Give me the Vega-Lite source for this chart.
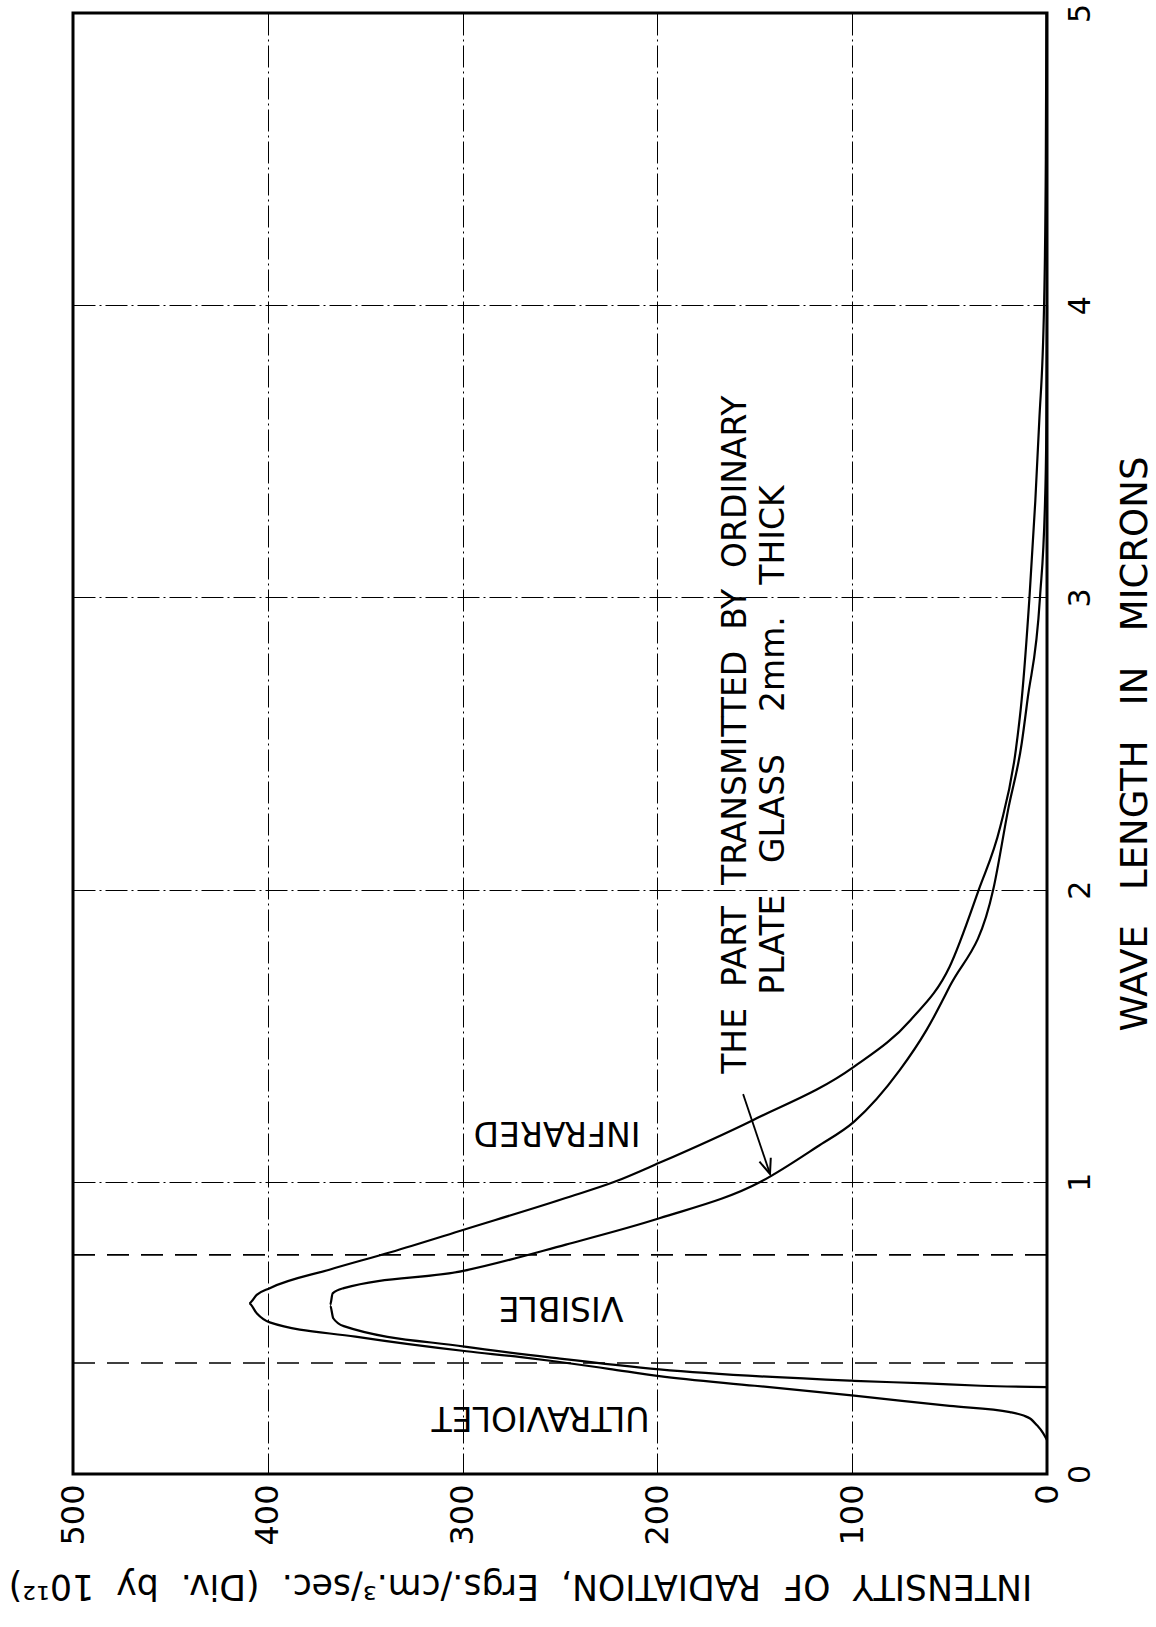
{
  "$schema": "https://vega.github.io/schema/vega-lite/v6.json",
  "width": 974,
  "height": 1461,
  "autosize": {"type": "none"},
  "padding": {"left": 73, "top": 13, "right": 109, "bottom": 153},
  "background": "white",
  "config": {"view": {"stroke": "black", "strokeWidth": 3}, "font": "DejaVu Sans"},
  "datasets": {
    "curves": [
      {"series": "Black body", "wavelength": 0.116, "intensity": 0},
      {"series": "Black body", "wavelength": 0.14, "intensity": 2},
      {"series": "Black body", "wavelength": 0.168, "intensity": 5.3},
      {"series": "Black body", "wavelength": 0.19, "intensity": 8.7},
      {"series": "Black body", "wavelength": 0.2, "intensity": 12},
      {"series": "Black body", "wavelength": 0.212, "intensity": 19},
      {"series": "Black body", "wavelength": 0.233, "intensity": 50},
      {"series": "Black body", "wavelength": 0.268, "intensity": 99},
      {"series": "Black body", "wavelength": 0.302, "intensity": 150},
      {"series": "Black body", "wavelength": 0.335, "intensity": 199},
      {"series": "Black body", "wavelength": 0.36, "intensity": 225},
      {"series": "Black body", "wavelength": 0.385, "intensity": 252},
      {"series": "Black body", "wavelength": 0.4, "intensity": 270},
      {"series": "Black body", "wavelength": 0.42, "intensity": 298},
      {"series": "Black body", "wavelength": 0.47, "intensity": 355},
      {"series": "Black body", "wavelength": 0.519, "intensity": 399},
      {"series": "Black body", "wavelength": 0.55, "intensity": 405.7},
      {"series": "Black body", "wavelength": 0.584, "intensity": 409.6},
      {"series": "Black body", "wavelength": 0.613, "intensity": 405.7},
      {"series": "Black body", "wavelength": 0.636, "intensity": 399},
      {"series": "Black body", "wavelength": 0.7, "intensity": 368},
      {"series": "Black body", "wavelength": 0.759, "intensity": 337},
      {"series": "Black body", "wavelength": 0.837, "intensity": 299},
      {"series": "Black body", "wavelength": 0.949, "intensity": 245},
      {"series": "Black body", "wavelength": 1.0, "intensity": 222},
      {"series": "Black body", "wavelength": 1.065, "intensity": 199},
      {"series": "Black body", "wavelength": 1.211, "intensity": 151},
      {"series": "Black body", "wavelength": 1.394, "intensity": 99},
      {"series": "Black body", "wavelength": 1.554, "intensity": 70},
      {"series": "Black body", "wavelength": 1.736, "intensity": 50},
      {"series": "Black body", "wavelength": 2.0, "intensity": 35},
      {"series": "Black body", "wavelength": 2.215, "intensity": 24},
      {"series": "Black body", "wavelength": 2.478, "intensity": 16},
      {"series": "Black body", "wavelength": 2.65, "intensity": 13},
      {"series": "Black body", "wavelength": 3.0, "intensity": 9},
      {"series": "Black body", "wavelength": 3.33, "intensity": 6},
      {"series": "Black body", "wavelength": 3.6, "intensity": 4},
      {"series": "Black body", "wavelength": 4.0, "intensity": 1.5},
      {"series": "Black body", "wavelength": 4.5, "intensity": 0.6},
      {"series": "Black body", "wavelength": 5.0, "intensity": 0.3},
      {"series": "Plate glass", "wavelength": 0.297, "intensity": 0},
      {"series": "Plate glass", "wavelength": 0.302, "intensity": 34},
      {"series": "Plate glass", "wavelength": 0.31, "intensity": 62},
      {"series": "Plate glass", "wavelength": 0.319, "intensity": 99},
      {"series": "Plate glass", "wavelength": 0.358, "intensity": 199},
      {"series": "Plate glass", "wavelength": 0.395, "intensity": 250},
      {"series": "Plate glass", "wavelength": 0.436, "intensity": 299},
      {"series": "Plate glass", "wavelength": 0.506, "intensity": 361},
      {"series": "Plate glass", "wavelength": 0.533, "intensity": 366.4},
      {"series": "Plate glass", "wavelength": 0.578, "intensity": 368},
      {"series": "Plate glass", "wavelength": 0.618, "intensity": 366.7},
      {"series": "Plate glass", "wavelength": 0.636, "intensity": 361},
      {"series": "Plate glass", "wavelength": 0.696, "intensity": 299},
      {"series": "Plate glass", "wavelength": 0.785, "intensity": 247},
      {"series": "Plate glass", "wavelength": 0.875, "intensity": 199},
      {"series": "Plate glass", "wavelength": 1.0, "intensity": 147},
      {"series": "Plate glass", "wavelength": 1.12, "intensity": 118},
      {"series": "Plate glass", "wavelength": 1.206, "intensity": 99},
      {"series": "Plate glass", "wavelength": 1.383, "intensity": 75.5},
      {"series": "Plate glass", "wavelength": 1.52, "intensity": 61.8},
      {"series": "Plate glass", "wavelength": 1.668, "intensity": 50},
      {"series": "Plate glass", "wavelength": 2.0, "intensity": 27.6},
      {"series": "Plate glass", "wavelength": 2.272, "intensity": 20},
      {"series": "Plate glass", "wavelength": 2.5, "intensity": 13},
      {"series": "Plate glass", "wavelength": 2.65, "intensity": 10},
      {"series": "Plate glass", "wavelength": 3.0, "intensity": 3.6},
      {"series": "Plate glass", "wavelength": 3.33, "intensity": 1},
      {"series": "Plate glass", "wavelength": 3.6, "intensity": 0.3},
      {"series": "Plate glass", "wavelength": 4.0, "intensity": 0}
    ],
    "bands": [
      {"boundary": "ultraviolet / visible", "wavelength": 0.38},
      {"boundary": "visible / infrared", "wavelength": 0.75}
    ],
    "regions": [
      {"label": "ULTRAVIOLET", "intensity": 260, "wavelength": 0.195},
      {"label": "VISIBLE", "intensity": 249.5, "wavelength": 0.572},
      {"label": "INFRARED", "intensity": 251.5, "wavelength": 1.17}
    ],
    "note": [
      {"label": "THE \u00a0PART \u00a0TRANSMITTED \u00a0BY \u00a0ORDINARY", "intensity": 159.7, "wavelength": 2.53},
      {"label": "PLATE \u00a0\u00a0GLASS \u00a0\u00a0 2mm. \u00a0\u00a0THICK", "intensity": 140.1, "wavelength": 2.512}
    ],
    "arrow": [
      {"part": "tail", "intensity": 156, "wavelength": 1.3},
      {"part": "tip", "intensity": 142.2, "wavelength": 1.027}
    ]
  },
  "layer": [
    {
      "data": {"name": "bands"},
      "mark": {"type": "rule", "color": "black", "strokeWidth": 1.6, "strokeDash": [22, 12]},
      "encoding": {
        "y": {
          "field": "wavelength", "type": "quantitative",
          "scale": {"domain": [0, 5], "nice": false},
          "axis": {
            "orient": "right", "values": [0, 1, 2, 3, 4, 5], "format": "d",
            "title": "WAVE \u00a0\u00a0LENGTH \u00a0\u00a0IN \u00a0\u00a0MICRONS",
            "titleAngle": 270, "titleBaseline": "top", "titlePadding": 22,
            "titleFont": "DejaVu Sans", "titleFontSize": 37, "titleFontWeight": "normal", "titleColor": "black",
            "labelAngle": 270, "labelAlign": "center", "labelBaseline": "top", "labelPadding": 18,
            "labelFont": "DejaVu Sans", "labelFontSize": 30, "labelColor": "black",
            "labelFlush": false, "labelOverlap": false,
            "ticks": false, "domain": false,
            "grid": true, "gridColor": "black", "gridDash": [22, 4, 2, 4], "gridWidth": 1, "gridOpacity": 1
          }
        }
      }
    },
    {
      "data": {"name": "curves"},
      "mark": {"type": "line", "color": "black", "strokeWidth": 2.2, "interpolate": "monotone", "orient": "horizontal"},
      "encoding": {
        "x": {
          "field": "intensity", "type": "quantitative",
          "scale": {"domain": [0, 500], "reverse": true, "nice": false, "zero": false},
          "axis": {
            "orient": "bottom", "values": [0, 100, 200, 300, 400, 500], "format": "d",
            "title": "INTENSITY \u00a0OF \u00a0RADIATION, \u00a0Ergs./cm.³/sec. \u00a0(Div. \u00a0by \u00a010¹²)",
            "titleAngle": 180, "titleBaseline": "bottom", "titlePadding": 22, "titleX": 447,
            "titleFont": "DejaVu Sans", "titleFontSize": 34.7, "titleFontWeight": "normal", "titleColor": "black",
            "labelAngle": 270, "labelAlign": "right", "labelBaseline": "middle", "labelPadding": 10,
            "labelFont": "DejaVu Sans", "labelFontSize": 32, "labelColor": "black",
            "labelFlush": false, "labelOverlap": false,
            "ticks": false, "domain": false,
            "grid": true, "gridColor": "black", "gridDash": [22, 4, 2, 4], "gridWidth": 1, "gridOpacity": 1
          }
        },
        "y": {
          "field": "wavelength", "type": "quantitative",
          "scale": {"domain": [0, 5], "nice": false},
          "axis": {
            "orient": "right", "values": [0, 1, 2, 3, 4, 5], "format": "d",
            "title": "WAVE \u00a0\u00a0LENGTH \u00a0\u00a0IN \u00a0\u00a0MICRONS",
            "titleAngle": 270, "titleBaseline": "top", "titlePadding": 22,
            "titleFont": "DejaVu Sans", "titleFontSize": 37, "titleFontWeight": "normal", "titleColor": "black",
            "labelAngle": 270, "labelAlign": "center", "labelBaseline": "top", "labelPadding": 18,
            "labelFont": "DejaVu Sans", "labelFontSize": 30, "labelColor": "black",
            "labelFlush": false, "labelOverlap": false,
            "ticks": false, "domain": false,
            "grid": true, "gridColor": "black", "gridDash": [22, 4, 2, 4], "gridWidth": 1, "gridOpacity": 1
          }
        },
        "detail": {"field": "series", "type": "nominal"},
        "order": {"field": "wavelength", "type": "quantitative"}
      }
    },
    {
      "data": {"name": "regions"},
      "mark": {"type": "text", "angle": 180, "font": "DejaVu Sans", "fontSize": 33, "align": "center", "baseline": "middle", "color": "black"},
      "encoding": {
        "x": {"field": "intensity", "type": "quantitative", "scale": {"domain": [0, 500], "reverse": true, "nice": false, "zero": false}},
        "y": {"field": "wavelength", "type": "quantitative", "scale": {"domain": [0, 5], "nice": false}},
        "text": {"field": "label"}
      }
    },
    {
      "data": {"name": "note"},
      "mark": {"type": "text", "angle": 270, "font": "DejaVu Sans", "fontSize": 33, "align": "center", "baseline": "middle", "color": "black"},
      "encoding": {
        "x": {"field": "intensity", "type": "quantitative", "scale": {"domain": [0, 500], "reverse": true, "nice": false, "zero": false}},
        "y": {"field": "wavelength", "type": "quantitative", "scale": {"domain": [0, 5], "nice": false}},
        "text": {"field": "label"}
      }
    },
    {
      "data": {"name": "arrow"},
      "mark": {"type": "line", "color": "black", "strokeWidth": 1.8},
      "encoding": {
        "x": {"field": "intensity", "type": "quantitative", "scale": {"domain": [0, 500], "reverse": true, "nice": false, "zero": false}},
        "y": {"field": "wavelength", "type": "quantitative", "scale": {"domain": [0, 5], "nice": false}}
      }
    },
    {
      "data": {"name": "arrow"},
      "transform": [{"filter": "datum.part === 'tip'"}],
      "mark": {"type": "point", "shape": "M -0.4 -1 L 0 0 L 0.4 -1", "size": 900, "angle": 341, "filled": false, "stroke": "black", "strokeWidth": 2, "opacity": 1},
      "encoding": {
        "x": {"field": "intensity", "type": "quantitative", "scale": {"domain": [0, 500], "reverse": true, "nice": false, "zero": false}},
        "y": {"field": "wavelength", "type": "quantitative", "scale": {"domain": [0, 5], "nice": false}}
      }
    }
  ]
}
